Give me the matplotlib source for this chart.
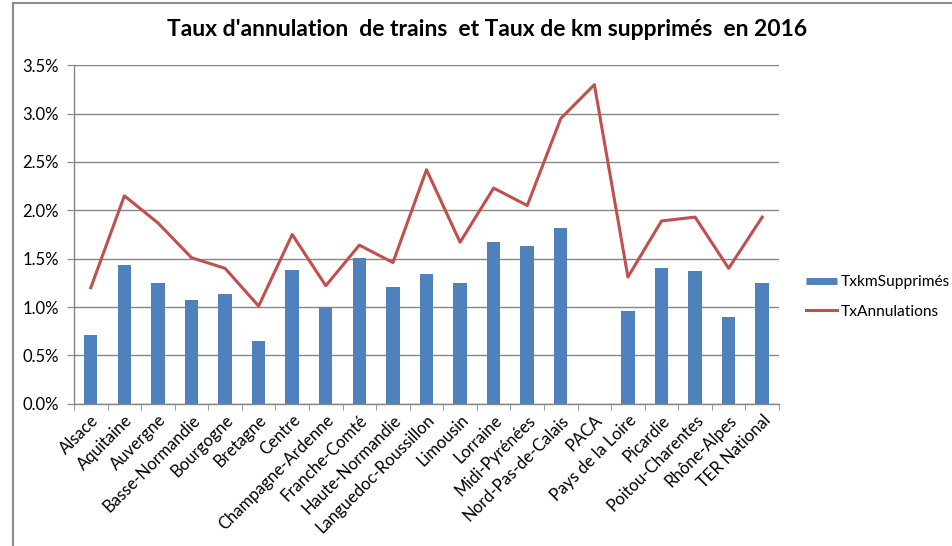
import numpy as np
import matplotlib
matplotlib.use("Agg")
import matplotlib.pyplot as plt
from matplotlib.patches import Rectangle
from matplotlib.lines import Line2D
from matplotlib.ticker import PercentFormatter, FixedLocator

plt.rcParams['font.family'] = ['Lato', 'DejaVu Sans']

regions = ["Alsace", "Aquitaine", "Auvergne", "Basse-Normandie", "Bourgogne",
           "Bretagne", "Centre", "Champagne-Ardenne", "Franche-Comté",
           "Haute-Normandie", "Languedoc-Roussillon", "Limousin", "Lorraine",
           "Midi-Pyrénées", "Nord-Pas-de-Calais", "PACA", "Pays de la Loire",
           "Picardie", "Poitou-Charentes", "Rhône-Alpes", "TER National"]

# taux de km supprimés (PACA non renseigné)
tx_km = [0.0071, 0.0143, 0.0125, 0.0107, 0.0113, 0.0065, 0.0138, 0.0100,
         0.0151, 0.0121, 0.0134, 0.0125, 0.0167, 0.0163, 0.0182, np.nan,
         0.0096, 0.0140, 0.0137, 0.0090, 0.0125]

# taux d'annulation de trains
tx_annul = [0.0120, 0.0215, 0.0187, 0.0151, 0.0140, 0.0101, 0.0175, 0.0122,
            0.0164, 0.0146, 0.0242, 0.0167, 0.0223, 0.0205, 0.0295, 0.0330,
            0.0131, 0.0189, 0.0193, 0.0140, 0.0193]

bleu = "#4F81BD"
rouge = "#C0504D"
gris = "#868686"

fig = plt.figure(figsize=(9.53, 5.46), dpi=100)
ax = fig.add_axes([74/953, 1 - 403.7/546, 705/953, 338.4/546])

x = np.arange(len(regions))
ax.bar(x, tx_km, width=0.4, color=bleu, zorder=2)
ax.plot(x, tx_annul, color=rouge, lw=2.2, zorder=3)

ax.set_xlim(-0.5, len(regions) - 0.5)
ax.set_ylim(0, 0.035)
ax.set_yticks(np.arange(0, 0.0351, 0.005))
ax.yaxis.set_major_formatter(PercentFormatter(1, decimals=1))
ax.yaxis.grid(True, color=gris, lw=1)
ax.set_axisbelow(True)

ax.set_xticks(x)
ax.set_xticklabels(regions, rotation=45, ha='right', rotation_mode='anchor')
ax.xaxis.set_minor_locator(FixedLocator(np.arange(-0.5, len(regions), 1)))
ax.tick_params(axis='x', which='major', length=0, pad=6)
ax.tick_params(axis='x', which='minor', length=4, color=gris)
ax.tick_params(axis='y', length=5, color=gris, pad=6)
ax.tick_params(labelsize=12, labelcolor="#000000")

for s in ["top", "right"]:
    ax.spines[s].set_visible(False)
for s in ["left", "bottom"]:
    ax.spines[s].set_color(gris)
    ax.spines[s].set_linewidth(1)

fig.suptitle("Taux d'annulation  de trains  et Taux de km supprimés  en 2016",
             x=487/953, y=1 - 30/546, va='center', fontsize=16.5, fontweight='bold')

handles = [Line2D([], [], color=bleu, lw=5, solid_capstyle='butt'),
           Line2D([], [], color=rouge, lw=2.2)]
fig.legend(handles, ["TxkmSupprimés", "TxAnnulations"],
           loc='center left', bbox_to_anchor=(792/953, 1 - 297/546),
           frameon=False, fontsize=11.2, handlelength=2.0, labelspacing=1.0,
           handletextpad=0.25)

fig.add_artist(Rectangle((13/953, -0.05), 1.0, 1 - 3/546 + 0.05,
                         transform=fig.transFigure, fill=False,
                         edgecolor="#8c8c8c", lw=1.5))

fig.savefig("out.png", dpi=100)
